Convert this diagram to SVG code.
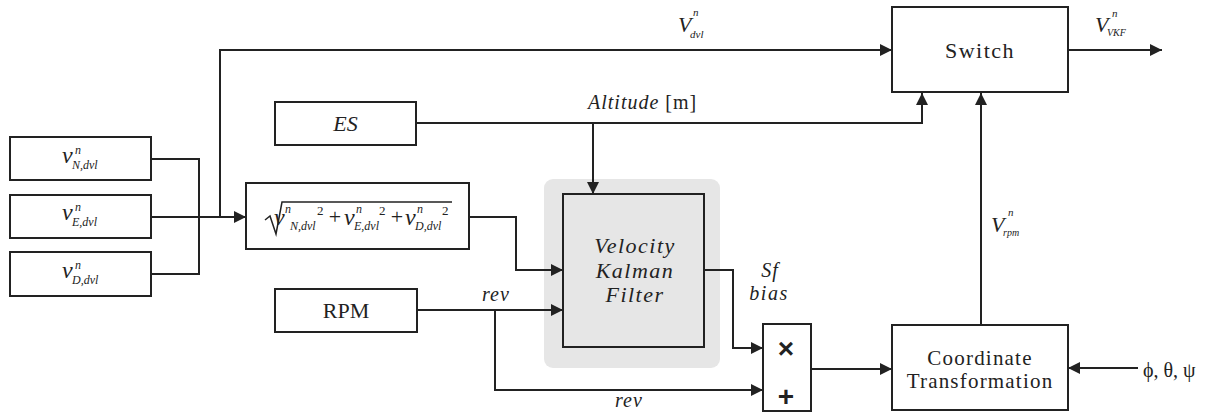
<svg xmlns="http://www.w3.org/2000/svg" width="1218" height="412" viewBox="0 0 1218 412" font-family="Liberation Serif, serif">
<style>
.box{fill:#fff;stroke:#222;stroke-width:2}
.ln{fill:none;stroke:#222;stroke-width:2}
.ar{fill:none;stroke:#222;stroke-width:2;marker-end:url(#arr)}
text{fill:#222}
.it{font-style:italic}
.lbl{font-size:22px;text-anchor:middle}
.sup{font-size:12px;font-style:italic}
.sub{font-size:12px;font-style:italic}
.big{font-size:24px;font-style:italic}
.op{font-family:"Liberation Sans",sans-serif;font-weight:bold;font-size:28px;text-anchor:middle}
</style>
<defs>
<marker id="arr" viewBox="0 0 10 10" refX="10" refY="5" markerWidth="12" markerHeight="12" markerUnits="userSpaceOnUse" orient="auto">
<path d="M0,0 L10,5 L0,10 z" fill="#222"/>
</marker>
</defs>

<g id="vN">
<rect class="box" x="10" y="137" width="141" height="43"/>
<text class="big" x="62" y="163">v</text>
<text class="sup" x="75" y="154">n</text>
<text class="sub" x="72" y="169">N,dvl</text>
</g>
<g id="vE">
<rect class="box" x="10" y="195" width="141" height="43"/>
<text class="big" x="62" y="220">v</text>
<text class="sup" x="75" y="211">n</text>
<text class="sub" x="72" y="226">E,dvl</text>
</g>
<g id="vD">
<rect class="box" x="10" y="252" width="141" height="44"/>
<text class="big" x="62" y="278">v</text>
<text class="sup" x="75" y="269">n</text>
<text class="sub" x="72" y="284">D,dvl</text>
</g>

<g id="norm">
<rect class="box" x="246" y="183" width="223" height="66"/>
<path class="ln" d="M265,220 L270,216 L276,234 L282,202 H452" style="stroke-width:1.5"/>
<text class="big" x="274" y="225">v</text>
<text class="sup" x="285" y="213">n</text>
<text class="sub" x="290" y="230">N,dvl</text>
<text x="317" y="215" style="font-size:13px">2</text>
<text x="335" y="224" style="font-size:22px;text-anchor:middle">+</text>
<text class="big" x="344" y="225">v</text>
<text class="sup" x="356" y="213">n</text>
<text class="sub" x="354" y="230">E,dvl</text>
<text x="379" y="215" style="font-size:13px">2</text>
<text x="397" y="224" style="font-size:22px;text-anchor:middle">+</text>
<text class="big" x="405" y="225">v</text>
<text class="sup" x="417" y="213">n</text>
<text class="sub" x="415" y="230">D,dvl</text>
<text x="442" y="215" style="font-size:13px">2</text>
</g>

<g id="es">
<rect class="box" x="275" y="102" width="141" height="43"/>
<text class="lbl it" x="345.5" y="131">ES</text>
</g>

<g id="rpm">
<rect class="box" x="275" y="289" width="142" height="43"/>
<text class="lbl" x="346" y="318">RPM</text>
</g>

<g id="kf">
<rect x="544" y="179" width="176" height="189" rx="9" fill="#e6e6e6"/>
<rect x="563" y="194" width="141" height="153" fill="#e6e6e6" stroke="#222" stroke-width="2"/>
<text class="lbl it" x="635" y="253" style="letter-spacing:1.5px">Velocity</text>
<text class="lbl it" x="635" y="278" style="letter-spacing:1.5px">Kalman</text>
<text class="lbl it" x="635" y="302" style="letter-spacing:1.5px">Filter</text>
</g>

<g id="mult">
<rect class="box" x="763" y="324" width="48" height="87"/>
<text class="op" x="786" y="358">×</text>
<text class="op" x="786" y="406">+</text>
</g>

<g id="switch">
<rect class="box" x="892" y="7" width="176" height="85"/>
<text class="lbl" x="980" y="58" style="letter-spacing:1.5px">Switch</text>
</g>

<g id="ct">
<rect class="box" x="892" y="325" width="176" height="85"/>
<text class="lbl" x="980" y="365" style="font-size:21px;letter-spacing:1.2px">Coordinate</text>
<text class="lbl" x="980" y="388" style="font-size:21px;letter-spacing:1.2px">Transformation</text>
</g>

<g id="connectors">
<path class="ln" d="M151,159 H199 V274 H151"/>
<path class="ar" d="M151,217 H246"/>
<path class="ar" d="M220,217 V50 H892"/>
<path class="ar" d="M416,123 H922 V93"/>
<path class="ar" d="M593,123 V194"/>
<path class="ar" d="M469,217 H516 V270 H563"/>
<path class="ar" d="M417,310 H563"/>
<path class="ar" d="M495,310 V390 H763"/>
<path class="ar" d="M704,270 H733 V348 H763"/>
<path class="ar" d="M811,369 H892"/>
<path class="ar" d="M1138,368 H1068"/>
<path class="ar" d="M981,325 V93"/>
<path class="ar" d="M1068,50 H1162"/>
<text class="big" x="678" y="32" style="font-size:22px">V</text>
<text class="sup" x="693" y="16" style="font-size:11px">n</text>
<text class="sub" x="690" y="38" style="font-size:11px">dvl</text>
<text class="big" x="1095" y="32" style="font-size:22px">V</text>
<text class="sup" x="1112" y="17" style="font-size:11px">n</text>
<text class="sub" x="1107" y="36" style="font-size:10px">VKF</text>
<text class="big" x="991" y="232" style="font-size:22px">V</text>
<text class="sup" x="1008" y="216" style="font-size:11px">n</text>
<text class="sub" x="1003" y="236" style="font-size:10px">rpm</text>
<text x="588" y="109" style="font-size:20px;letter-spacing:1px"><tspan class="it">Altitude</tspan> [m]</text>
<text class="it" x="482" y="301" style="font-size:20px;letter-spacing:1px">rev</text>
<text class="it" x="615" y="407" style="font-size:20px;letter-spacing:1px">rev</text>
<text class="it" x="770" y="277" style="font-size:20px;text-anchor:middle;letter-spacing:1px">Sf</text>
<text class="it" x="769" y="300" style="font-size:20px;text-anchor:middle;letter-spacing:1.5px">bias</text>
<text x="1143" y="377" style="font-size:20px">ϕ, θ, ψ</text>
</g>
</svg>
